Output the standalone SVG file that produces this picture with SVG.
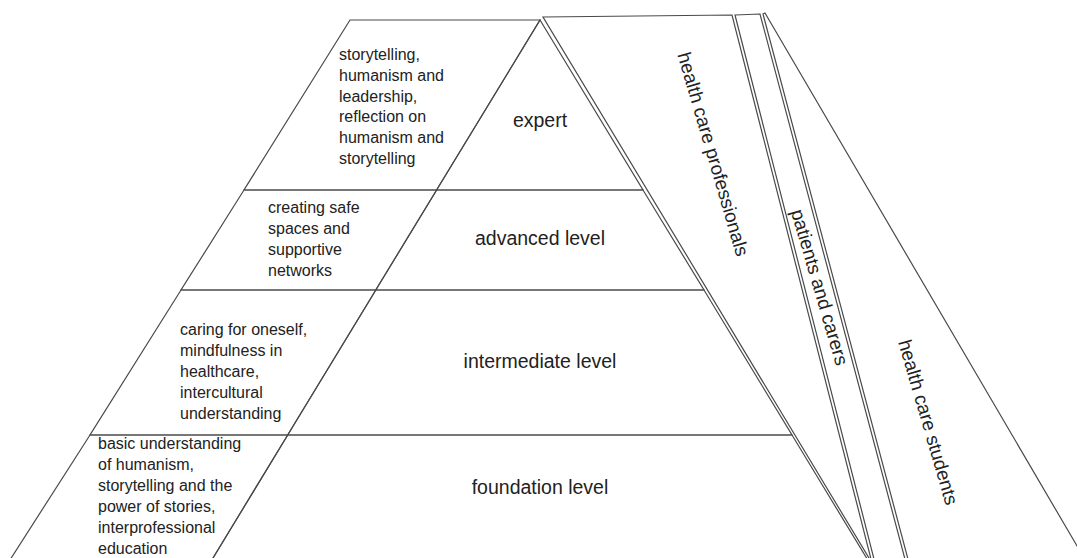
<svg xmlns="http://www.w3.org/2000/svg" width="1077" height="558" viewBox="0 0 1077 558">
  <style>
    .edge { fill: none; stroke: #4a4a4a; stroke-width: 1.2; stroke-linejoin: miter; }
    .txt { font-family: "Liberation Sans", Arial, sans-serif; fill: #222; }
    .topic { font-size: 16px; }
    .level { font-size: 19.5px; text-anchor: middle; }
    .side { font-size: 19px; text-anchor: middle; }
  </style>
  <rect x="0" y="0" width="1077" height="558" fill="#fff"/>

  <!-- side bands behind the pyramid -->
  <g id="band-professionals">
    <polygon class="edge" points="543,17 732,15 872,563"/>
    <text class="txt side" transform="translate(707,156) rotate(73.7)">health care professionals</text>
  </g>
  <g id="band-patients">
    <polygon class="edge" points="735,15 760,14 906,563 875,563"/>
    <text class="txt side" transform="translate(813.5,289) rotate(73.7)">patients and carers</text>
  </g>
  <g id="band-students">
    <polygon class="edge" points="763,14 765,13 1087,563 909,563"/>
    <text class="txt side" transform="translate(922,424) rotate(73.7)">health care students</text>
  </g>

  <!-- pyramid levels -->
  <g id="level-expert">
    <polygon class="edge" points="540,20 643,190 436.6,190"/>
    <text class="txt level" x="540" y="127">expert</text>
  </g>
  <g id="level-advanced">
    <polygon class="edge" points="436.6,190 643,190 704,290 375.8,290"/>
    <text class="txt level" x="540" y="245">advanced level</text>
  </g>
  <g id="level-intermediate">
    <polygon class="edge" points="375.8,290 704,290 792,435 287.7,435"/>
    <text class="txt level" x="540" y="368">intermediate level</text>
  </g>
  <g id="level-foundation">
    <polygon class="edge" points="287.7,435 792,435 869.6,563 210,563"/>
    <text class="txt level" x="540" y="494">foundation level</text>
  </g>

  <!-- topic boxes along the left flank -->
  <g id="topics-expert">
    <polygon class="edge" points="350,20 540,20 436.6,190 244,190"/>
    <text class="txt topic" x="339" y="60">
      <tspan x="339" dy="0">storytelling,</tspan>
      <tspan x="339" dy="20.8">humanism and</tspan>
      <tspan x="339" dy="20.8">leadership,</tspan>
      <tspan x="339" dy="20.8">reflection on</tspan>
      <tspan x="339" dy="20.8">humanism and</tspan>
      <tspan x="339" dy="20.8">storytelling</tspan>
    </text>
  </g>
  <g id="topics-advanced">
    <polygon class="edge" points="244,190 436.6,190 375.8,290 181,290"/>
    <text class="txt topic" x="268" y="213">
      <tspan x="268" dy="0">creating safe</tspan>
      <tspan x="268" dy="21">spaces and</tspan>
      <tspan x="268" dy="21">supportive</tspan>
      <tspan x="268" dy="21">networks</tspan>
    </text>
  </g>
  <g id="topics-intermediate">
    <polygon class="edge" points="181,290 375.8,290 287.7,435 90,435"/>
    <text class="txt topic" x="180" y="335">
      <tspan x="180" dy="0">caring for oneself,</tspan>
      <tspan x="180" dy="21">mindfulness in</tspan>
      <tspan x="180" dy="21">healthcare,</tspan>
      <tspan x="180" dy="21">intercultural</tspan>
      <tspan x="180" dy="21">understanding</tspan>
    </text>
  </g>
  <g id="topics-foundation">
    <polygon class="edge" points="90,435 287.7,435 210,563 8,563"/>
    <text class="txt topic" x="98" y="449">
      <tspan x="98" dy="0">basic understanding</tspan>
      <tspan x="98" dy="21">of humanism,</tspan>
      <tspan x="98" dy="21">storytelling and the</tspan>
      <tspan x="98" dy="21">power of stories,</tspan>
      <tspan x="98" dy="21">interprofessional</tspan>
      <tspan x="98" dy="21">education</tspan>
    </text>
  </g>
</svg>
